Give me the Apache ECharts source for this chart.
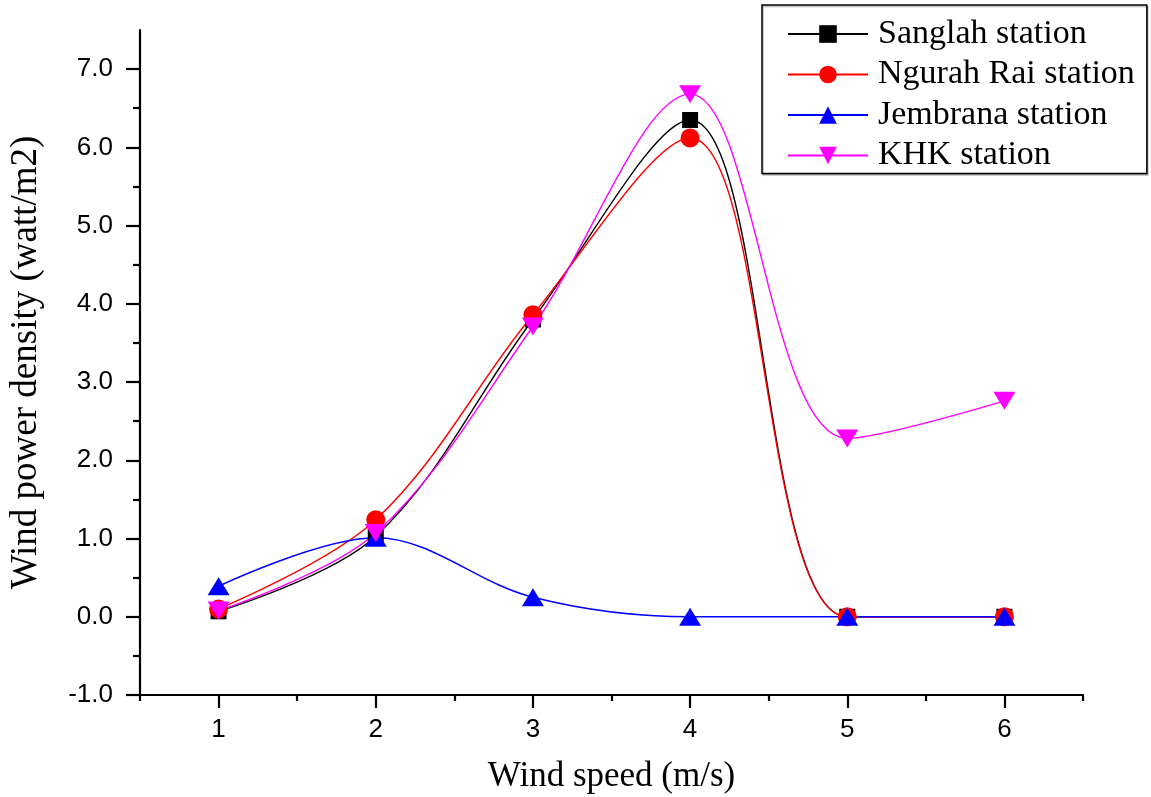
<!DOCTYPE html>
<html>
<head>
<meta charset="utf-8">
<title>Wind power density</title>
<script src="https://cdn.jsdelivr.net/npm/echarts@6/dist/echarts.min.js"></script>
<style>
  html, body { margin: 0; padding: 0; background: #fff; }
  #chart { width: 1151px; height: 797px; }
</style>
</head>
<body>
<div id="chart"></div>
<script>
const windSpeed = [1, 2, 3, 4, 5, 6]
const sanglah = [0.07, 1.03, 3.8, 6.35, 0.0, 0.0]
const ngurahRai = [0.1, 1.24, 3.86, 6.12, 0.0, 0.0]
const jembrana = [0.39, 1.01, 0.25, 0.0, 0.0, 0.0]
const khk = [0.08, 1.07, 3.71, 6.68, 2.28, 2.76]

const xMajorTicks = [1, 2, 3, 4, 5, 6]
const xMinorTicks = [0.5, 1.5, 2.5, 3.5, 4.5, 5.5, 6.5]
const yMajorTicks = [-1, 0, 1, 2, 3, 4, 5, 6, 7]
const yMinorTicks = [-0.5, 0.5, 1.5, 2.5, 3.5, 4.5, 5.5, 6.5]

const serif = '"Liberation Serif", "Times New Roman", serif'
const sans = '"Liberation Sans", Arial, sans-serif'

const toPairs = (ys) => windSpeed.map((x, i) => [x, ys[i]])

const lineSeries = (name, ys, color, symbol, size, rotate) => ({
  name,
  type: 'line',
  smooth: 0.35,
  data: toPairs(ys),
  symbol,
  symbolSize: size,
  symbolRotate: rotate || 0,
  showAllSymbol: true,
  lineStyle: { color, width: 1.4 },
  itemStyle: { color },
  emphasis: { disabled: true }
})

const axisLineStyle = () => ({ color: '#000', width: 2.2 })

const chart = echarts.init(document.getElementById('chart'))
chart.setOption({
  animation: false,
  grid: { left: 140, right: 68, top: 30, bottom: 102, outerBoundsMode: 'none' },
  legend: {
    orient: 'vertical',
    left: 762,
    top: 5,
    padding: [12, 12, 1, 25],
    itemWidth: 80,
    itemHeight: 22,
    itemGap: 6.5,
    borderColor: '#000',
    borderWidth: 1.5,
    backgroundColor: '#fff',
    shadowColor: 'rgba(0,0,0,0.25)',
    shadowOffsetX: 1,
    shadowOffsetY: 1.5,
    borderRadius: 0,
    textStyle: { fontFamily: serif, fontSize: 34, color: '#000', lineHeight: 33, padding: [0, 0, 0, 5] },
    data: ['Sanglah station', 'Ngurah Rai station', 'Jembrana station', 'KHK station']
  },
  xAxis: [
    {
      type: 'value',
      position: 'bottom',
      min: 0.5,
      max: 6.5,
      name: 'Wind speed (m/s)',
      nameLocation: 'middle',
      nameGap: 64,
      nameTextStyle: { fontFamily: serif, fontSize: 35, color: '#000' },
      axisLine: { show: true, onZero: false, lineStyle: axisLineStyle() },
      axisTick: { show: true, customValues: xMajorTicks, length: 13, lineStyle: axisLineStyle() },
      axisLabel: { customValues: xMajorTicks, margin: 22, fontFamily: sans, fontSize: 26, color: '#000' },
      splitLine: { show: false }
    },
    {
      type: 'value',
      position: 'bottom',
      min: 0.5,
      max: 6.5,
      axisLine: { show: false, onZero: false },
      axisTick: { show: true, customValues: xMinorTicks, length: 6, lineStyle: axisLineStyle() },
      axisLabel: { show: false },
      splitLine: { show: false }
    }
  ],
  yAxis: [
    {
      type: 'value',
      position: 'left',
      min: -1,
      max: 7.5,
      name: 'Wind power density (watt/m2)',
      nameLocation: 'middle',
      nameGap: 95,
      nameTextStyle: { fontFamily: serif, fontSize: 37, color: '#000' },
      axisLine: { show: true, onZero: false, lineStyle: axisLineStyle() },
      axisTick: { show: true, customValues: yMajorTicks, length: 14, lineStyle: axisLineStyle() },
      axisLabel: {
        customValues: yMajorTicks,
        margin: 27,
        fontFamily: sans,
        fontSize: 26,
        color: '#000',
        formatter: (v) => v.toFixed(1)
      },
      splitLine: { show: false }
    },
    {
      type: 'value',
      position: 'left',
      min: -1,
      max: 7.5,
      axisLine: { show: false, onZero: false },
      axisTick: { show: true, customValues: yMinorTicks, length: 7, lineStyle: axisLineStyle() },
      axisLabel: { show: false },
      splitLine: { show: false }
    }
  ],
  series: [
    lineSeries('Sanglah station', sanglah, '#000000', 'rect', 16),
    lineSeries('Ngurah Rai station', ngurahRai, '#ff0000', 'circle', 19),
    lineSeries('Jembrana station', jembrana, '#0000ff', 'triangle', [22, 18]),
    lineSeries('KHK station', khk, '#ff00ff', 'triangle', [22, 18], 180)
  ]
})
</script>
</body>
</html>
